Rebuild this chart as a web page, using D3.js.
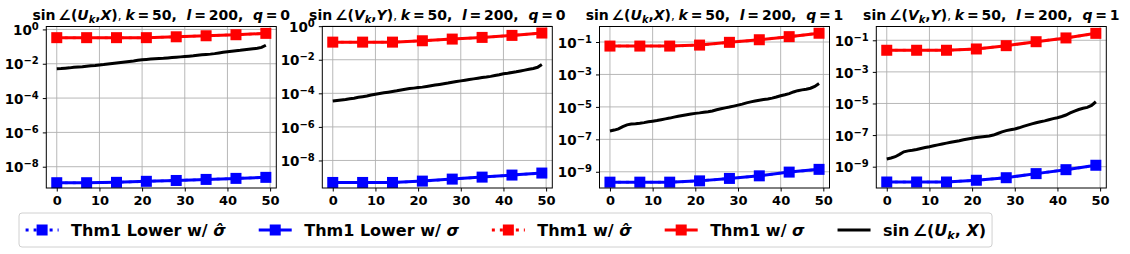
<!DOCTYPE html>
<html>
<head>
<meta charset="utf-8">
<script src="https://cdn.jsdelivr.net/npm/d3@7"></script>
<style>
body { margin: 0; background: #fff; }
text { font-family: "DejaVu Sans"; font-weight: bold; fill: #000; }
</style>
</head>
<body>
<script>
var width = 1130,
    height = 254;

// iteration index for the black curves, and where the square markers sit
var iters = d3.range(50);
var markerIters = [0, 7, 14, 21, 28, 35, 42, 49];
var xTicks = [0, 10, 20, 30, 40, 50];
var yTicksEven = [0, -2, -4, -6, -8];
var yTicksOdd = [-1, -3, -5, -7, -9];

// panel 1: sin(U_k, X), q = 0
var red1 = [0.331, 0.331, 0.331, 0.331, 0.372, 0.427, 0.490, 0.589];
var blue1 = [1.17e-9, 1.17e-9, 1.23e-9, 1.41e-9, 1.58e-9, 1.82e-9, 2.09e-9, 2.40e-9];
var black1 = [5.13e-3, 5.25e-3, 5.50e-3, 5.75e-3, 6.17e-3, 6.46e-3, 6.76e-3, 7.24e-3, 7.59e-3, 7.94e-3,
              8.51e-3, 8.91e-3, 9.55e-3, 1.023e-2, 1.096e-2, 1.175e-2, 1.259e-2, 1.349e-2, 1.445e-2, 1.585e-2,
              1.698e-2, 1.778e-2, 1.862e-2, 1.950e-2, 2.042e-2, 2.089e-2, 2.188e-2, 2.291e-2, 2.399e-2, 2.512e-2,
              2.630e-2, 2.754e-2, 2.884e-2, 3.090e-2, 3.311e-2, 3.467e-2, 3.631e-2, 3.890e-2, 4.266e-2, 4.677e-2,
              5.012e-2, 5.370e-2, 5.754e-2, 6.026e-2, 6.457e-2, 6.918e-2, 7.413e-2, 7.943e-2, 8.913e-2, 1.202e-1];

// panel 2: sin(V_k, Y), q = 0
var red2 = [0.112, 0.112, 0.112, 0.135, 0.170, 0.214, 0.282, 0.389];
var blue2 = [4.90e-10, 4.90e-10, 4.90e-10, 5.89e-10, 7.76e-10, 1.02e-9, 1.35e-9, 1.78e-9];
var black2 = [3.47e-5, 3.72e-5, 3.98e-5, 4.27e-5, 4.68e-5, 5.13e-5, 5.75e-5, 6.31e-5, 6.92e-5, 7.94e-5,
              8.91e-5, 9.77e-5, 1.07e-4, 1.17e-4, 1.29e-4, 1.41e-4, 1.58e-4, 1.74e-4, 1.91e-4, 2.04e-4,
              2.19e-4, 2.34e-4, 2.57e-4, 2.82e-4, 3.09e-4, 3.39e-4, 3.72e-4, 4.07e-4, 4.57e-4, 5.01e-4,
              5.50e-4, 6.03e-4, 6.61e-4, 7.24e-4, 7.94e-4, 8.71e-4, 9.33e-4, 1.02e-3, 1.15e-3, 1.29e-3,
              1.48e-3, 1.58e-3, 1.74e-3, 1.91e-3, 2.14e-3, 2.40e-3, 2.69e-3, 3.02e-3, 3.55e-3, 5.25e-3];

// panel 3: sin(U_k, X), q = 1
var red3 = [0.0562, 0.0562, 0.0562, 0.0646, 0.0955, 0.138, 0.214, 0.347];
var blue3 = [2.29e-10, 2.29e-10, 2.29e-10, 2.75e-10, 3.89e-10, 5.62e-10, 9.55e-10, 1.41e-9];
var black3 = [3.24e-7, 3.72e-7, 4.37e-7, 6.03e-7, 7.76e-7, 8.71e-7, 9.12e-7, 9.77e-7, 1.07e-6, 1.20e-6,
              1.32e-6, 1.45e-6, 1.62e-6, 1.82e-6, 2.04e-6, 2.34e-6, 2.63e-6, 2.95e-6, 3.31e-6, 3.63e-6,
              3.98e-6, 4.27e-6, 4.68e-6, 5.01e-6, 5.62e-6, 6.61e-6, 7.59e-6, 8.71e-6, 9.77e-6, 1.12e-5,
              1.29e-5, 1.48e-5, 1.78e-5, 2.04e-5, 2.29e-5, 2.57e-5, 2.82e-5, 3.09e-5, 3.47e-5, 4.07e-5,
              4.90e-5, 5.62e-5, 6.61e-5, 8.32e-5, 1.00e-4, 1.12e-4, 1.23e-4, 1.41e-4, 1.82e-4, 2.75e-4];

// panel 4: sin(V_k, Y), q = 1
var red4 = [0.0234, 0.0234, 0.0234, 0.0282, 0.0457, 0.0813, 0.141, 0.275];
var blue4 = [1.07e-10, 1.07e-10, 1.07e-10, 1.38e-10, 2.00e-10, 3.63e-10, 6.46e-10, 1.23e-9];
var black4 = [3.09e-9, 3.55e-9, 4.27e-9, 6.03e-9, 8.71e-9, 1.00e-8, 1.10e-8, 1.23e-8, 1.41e-8, 1.62e-8,
              1.82e-8, 2.09e-8, 2.40e-8, 2.75e-8, 3.09e-8, 3.47e-8, 3.89e-8, 4.37e-8, 5.01e-8, 5.62e-8,
              6.31e-8, 6.92e-8, 7.59e-8, 8.13e-8, 8.71e-8, 1.00e-7, 1.26e-7, 1.58e-7, 1.91e-7, 2.19e-7,
              2.45e-7, 2.88e-7, 3.55e-7, 4.27e-7, 5.13e-7, 6.03e-7, 6.92e-7, 7.94e-7, 9.33e-7, 1.10e-6,
              1.26e-6, 1.51e-6, 1.86e-6, 2.51e-6, 3.31e-6, 4.17e-6, 5.01e-6, 5.62e-6, 7.59e-6, 1.29e-5];

var panels = [
    {sub: "U", rhs: "X", q: 0, red: red1, blue: blue1, black: black1, ticks: yTicksEven, logDomain: [-9.24, 0.17], left: 46.3},
    {sub: "V", rhs: "Y", q: 0, red: red2, blue: blue2, black: black2, ticks: yTicksEven, logDomain: [-9.64, -0.02], left: 322.3},
    {sub: "U", rhs: "X", q: 1, red: red3, blue: blue3, black: black3, ticks: yTicksOdd, logDomain: [-10.0, -0.044], left: 599.5},
    {sub: "V", rhs: "Y", q: 1, red: red4, blue: blue4, black: black4, ticks: yTicksOdd, logDomain: [-10.35, -0.127], left: 876.3}
];

var plotW = 230,
    plotTop = 26.5,
    plotBottom = 188;

var svg = d3.select("body")
            .append("svg")
            .attr("width", width)
            .attr("height", height);

// writes "sin ∠(U_k, X)" style math into a text node
function angleText(t, letter, rhs, sep) {
    t.append("tspan").text("sin\u2009\u2220(");
    t.append("tspan").style("font-style", "italic").text(letter);
    t.append("tspan").style("font-style", "italic").style("font-size", "0.7em").attr("dy", 3).text("k");
    t.append("tspan").attr("dy", -3).text(sep);
    t.append("tspan").style("font-style", "italic").text(rhs);
    t.append("tspan").text(")");
}

panels.forEach(function(p) {
    var x = d3.scaleLinear()
            .domain([-2.45, 51.45])
            .range([p.left, p.left + plotW]);

    var y = d3.scaleLog()
            .domain([Math.pow(10, p.logDomain[0]), Math.pow(10, p.logDomain[1])])
            .range([plotBottom, plotTop]);

    var g = svg.append("g");

    // grid
    g.selectAll(".gx")
     .data(xTicks)
     .enter()
     .append("line")
     .attr("x1", function(d) { return x(d); })
     .attr("x2", function(d) { return x(d); })
     .attr("y1", plotTop)
     .attr("y2", plotBottom)
     .attr("stroke", "#b0b0b0")
     .attr("stroke-width", 0.9);

    g.selectAll(".gy")
     .data(p.ticks)
     .enter()
     .append("line")
     .attr("x1", p.left)
     .attr("x2", p.left + plotW)
     .attr("y1", function(d) { return y(Math.pow(10, d)); })
     .attr("y2", function(d) { return y(Math.pow(10, d)); })
     .attr("stroke", "#b0b0b0")
     .attr("stroke-width", 0.9);

    var line = d3.line()
            .x(function(d) { return x(d[0]); })
            .y(function(d) { return y(d[1]); });

    var redPts = d3.zip(markerIters, p.red),
        bluePts = d3.zip(markerIters, p.blue),
        blackPts = d3.zip(iters, p.black);

    // hat-sigma (dotted) series lie right under the sigma ones
    [[bluePts, "#0000ff"], [redPts, "#ff0000"]].forEach(function(s) {
        g.append("path")
         .attr("d", line(s[0]))
         .attr("fill", "none")
         .attr("stroke", s[1])
         .attr("stroke-opacity", 0.5)
         .attr("stroke-width", 3)
         .attr("stroke-dasharray", "3,5");
        g.append("path")
         .attr("d", line(s[0]))
         .attr("fill", "none")
         .attr("stroke", s[1])
         .attr("stroke-width", 3);
        g.selectAll(null)
         .data(s[0])
         .enter()
         .append("rect")
         .attr("x", function(d) { return x(d[0]) - 5.5; })
         .attr("y", function(d) { return y(d[1]) - 5.5; })
         .attr("width", 11)
         .attr("height", 11)
         .attr("fill", s[1]);
    });

    g.append("path")
     .attr("d", line(blackPts))
     .attr("fill", "none")
     .attr("stroke", "#000")
     .attr("stroke-width", 3);

    // frame
    g.append("rect")
     .attr("x", p.left)
     .attr("y", plotTop)
     .attr("width", plotW)
     .attr("height", plotBottom - plotTop)
     .attr("fill", "none")
     .attr("stroke", "#000")
     .attr("stroke-width", 1);

    // axes
    var xAxis = g.append("g")
     .attr("transform", "translate(0," + plotBottom + ")")
     .call(d3.axisBottom(x).tickValues(xTicks).tickSize(3.5).tickPadding(4).tickFormat(d3.format("d")));
    xAxis.select(".domain").remove();
    xAxis.selectAll("text").style("font-size", "13px").attr("font-family", null);

    var yAxis = g.append("g")
     .attr("transform", "translate(" + p.left + ",0)")
     .call(d3.axisLeft(y).tickValues(p.ticks.map(function(d) { return Math.pow(10, d); })).tickSize(3.5).tickPadding(4).tickFormat(""));
    yAxis.select(".domain").remove();
    yAxis.selectAll(".tick text").each(function(d) {
        var t = d3.select(this).style("font-size", "13.5px").attr("dy", "0.38em");
        var e = Math.round(Math.log10(d));
        t.append("tspan").text("10");
        t.append("tspan").style("font-size", "10px").attr("dy", -5).text(e === 0 ? "0" : "\u2212" + Math.abs(e));
    });

    // title
    var t = g.append("text")
     .attr("x", p.left + plotW / 2)
     .attr("y", 19.5)
     .attr("text-anchor", "middle")
     .style("font-size", "14px");
    angleText(t, p.sub, p.rhs, ",");
    t.append("tspan").style("font-weight", "normal").style("font-size", "12px").text(",\u00a0");
    t.append("tspan").style("font-style", "italic").text("k");
    t.append("tspan").text("\u2009=\u200950,\u00a0\u00a0");
    t.append("tspan").style("font-style", "italic").text("l");
    t.append("tspan").text("\u2009=\u2009200,\u00a0\u00a0");
    t.append("tspan").style("font-style", "italic").text("q");
    t.append("tspan").text("\u2009=\u2009" + p.q);
});

// legend
var legendItems = [
    {label: ["Thm1 Lower w/ ", "\u03c3\u0302"], color: "#0000ff", dash: "3,5", marker: true},
    {label: ["Thm1 Lower w/ ", "\u03c3"], color: "#0000ff", dash: null, marker: true},
    {label: ["Thm1 w/ ", "\u03c3\u0302"], color: "#ff0000", dash: "3,5", marker: true},
    {label: ["Thm1 w/ ", "\u03c3"], color: "#ff0000", dash: null, marker: true},
    {label: null, color: "#000", dash: null, marker: false}
];

var legend = svg.append("g");
var box = legend.append("rect")
    .attr("y", 213)
    .attr("height", 34)
    .attr("rx", 3)
    .attr("fill", "#fff")
    .attr("stroke", "#d0d0d0")
    .attr("stroke-width", 1);

var lx = 25.6, ly = 230;
legendItems.forEach(function(it) {
    legend.append("line")
        .attr("x1", lx).attr("x2", lx + 33)
        .attr("y1", ly).attr("y2", ly)
        .attr("stroke", it.color)
        .attr("stroke-width", 3)
        .attr("stroke-dasharray", it.dash);
    if (it.marker) {
        legend.append("rect")
            .attr("x", lx + 16.5 - 5.5).attr("y", ly - 5.5)
            .attr("width", 11).attr("height", 11)
            .attr("fill", it.color);
    }
    var t = legend.append("text")
        .attr("x", lx + 45.5)
        .attr("y", ly + 6)
        .style("font-size", "16px");
    if (it.label) {
        t.append("tspan").text(it.label[0]);
        t.append("tspan").style("font-style", "italic").text(it.label[1]);
    } else {
        angleText(t, "U", "X", ", ");
    }
    lx = lx + 45.5 + t.node().getComputedTextLength() + 33;
});
box.attr("x", 19).attr("width", lx - 33 + 6 - 19);
</script>
</body>
</html>
